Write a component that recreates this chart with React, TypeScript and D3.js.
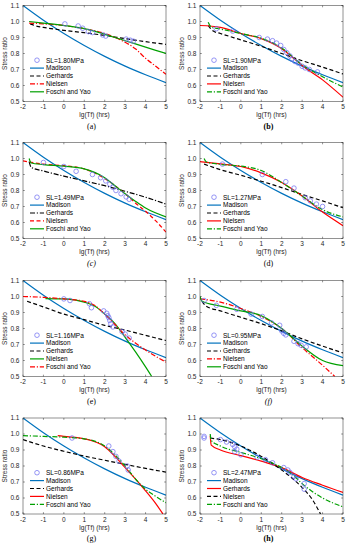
import React from 'react';
import * as d3 from 'd3';

const xTicks = [-2, -1, 0, 1, 2, 3, 4, 5];
const yTicks = [0.5, 0.6, 0.7, 0.8, 0.9, 1.0, 1.1];

// Madison curve (same in every panel)
const madison: [number, number][] = [[-2, 1.1], [-1, 1.008], [0, 0.925], [1, 0.85], [2, 0.782], [3, 0.721], [4, 0.667], [5, 0.618]];

// (a) SL=1.80MPa
const aPoints: [number, number][] = [[0.05, 0.985], [0.7, 0.972], [0.92, 0.958], [1.2, 0.937], [1.4, 0.931], [1.9, 0.916], [2.05, 0.909], [3.05, 0.89], [3.25, 0.883], [3.4, 0.877]];
const aGerhards: [number, number][] = [[-1.65, 0.985], [-1.3, 0.97], [-1, 0.963], [0, 0.945], [1, 0.93], [2, 0.913], [3, 0.893], [4, 0.874], [5, 0.857]];
const aNielsen: [number, number][] = [[-1.7, 0.99], [-1, 0.985], [0, 0.975], [1, 0.955], [2, 0.925], [2.5, 0.9], [3, 0.87], [3.5, 0.83], [4, 0.77], [4.5, 0.72], [5, 0.67]];
const aFoschi: [number, number][] = [[-1.7, 1.0], [-1, 0.99], [0, 0.975], [1, 0.955], [2, 0.92], [3, 0.88], [4, 0.84], [5, 0.8]];

// (b) SL=1.90MPa
const bPoints: [number, number][] = [[-1.2, 0.955], [-0.4, 0.94], [0.9, 0.9], [1.3, 0.89], [1.55, 0.88], [1.75, 0.865], [1.95, 0.85], [2.1, 0.825], [2.25, 0.805], [2.4, 0.785], [2.5, 0.765], [2.65, 0.75], [2.8, 0.74], [3.0, 0.72], [3.15, 0.71], [3.35, 0.7], [3.75, 0.685]];
const bGerhards: [number, number][] = [[-1.6, 0.975], [-1.35, 0.94], [-1, 0.925], [0, 0.885], [1, 0.845], [2, 0.8], [3, 0.755], [4, 0.715], [5, 0.672]];
const bNielsen: [number, number][] = [[-2, 0.975], [-1, 0.963], [0, 0.925], [1, 0.893], [2, 0.83], [2.5, 0.78], [3, 0.725], [4, 0.635], [5, 0.527]];
const bFoschi: [number, number][] = [[-1.6, 0.995], [-1.45, 0.965], [-1, 0.953], [0, 0.925], [1, 0.895], [2, 0.835], [3, 0.73], [4, 0.655], [5, 0.59]];

// (c) SL=1.49MPa
const cPoints: [number, number][] = [[-1.0, 0.975], [0.0, 0.95], [0.6, 0.92], [1.4, 0.9], [1.8, 0.88], [2.05, 0.86], [2.25, 0.84], [2.4, 0.82], [2.55, 0.8], [2.8, 0.78], [3.05, 0.76], [3.2, 0.745]];
const cGerhards: [number, number][] = [[-1.7, 0.98], [-1.6, 0.945], [-1, 0.922], [0, 0.89], [1, 0.86], [2, 0.83], [3, 0.795], [4, 0.758], [5, 0.715]];
const cNielsen: [number, number][] = [[-2, 0.985], [-1, 0.965], [0, 0.955], [1, 0.935], [2, 0.875], [2.5, 0.83], [3, 0.78], [3.5, 0.722], [4, 0.67], [4.5, 0.61], [5, 0.54]];
const cFoschi: [number, number][] = [[-1.7, 1.0], [-1.6, 0.972], [-1, 0.962], [0, 0.952], [1, 0.935], [2, 0.88], [2.5, 0.83], [3, 0.78], [3.5, 0.733], [4, 0.69], [5, 0.635]];

// (d) SL=1.27MPa
const dPoints: [number, number][] = [[-0.9, 0.965], [1.05, 0.9], [2.2, 0.855], [2.6, 0.815], [3.15, 0.755], [3.4, 0.735], [3.7, 0.715], [4.0, 0.7]];
const dGerhards: [number, number][] = [[-1.8, 0.965], [-1, 0.93], [0, 0.895], [1, 0.858], [2, 0.818], [3, 0.775], [4, 0.735], [5, 0.692]];
const dNielsen: [number, number][] = [[-2, 0.98], [-1, 0.966], [0, 0.95], [1, 0.91], [2, 0.85], [3, 0.765], [4, 0.665], [5, 0.58]];
const dFoschi: [number, number][] = [[-1.8, 1.0], [-1.7, 0.98], [-1, 0.963], [0, 0.953], [1, 0.925], [2, 0.85], [3, 0.765], [4, 0.68], [5, 0.635]];

// (e) SL=1.16MPa
const ePoints: [number, number][] = [[0.0, 0.985], [0.3, 0.975], [1.25, 0.955], [1.35, 0.93], [1.95, 0.91], [2.1, 0.895], [2.15, 0.88], [2.2, 0.868], [2.25, 0.85], [2.3, 0.83], [2.4, 0.81], [2.85, 0.78], [3.0, 0.765], [3.2, 0.74]];
const eGerhards: [number, number][] = [[-1.8, 0.97], [-1, 0.935], [0, 0.89], [1, 0.855], [2, 0.82], [3, 0.79], [4, 0.757], [5, 0.725]];
const eNielsen: [number, number][] = [[-0.9, 0.987], [0, 0.985], [1, 0.965], [1.5, 0.94], [2, 0.89], [2.5, 0.83], [3, 0.745], [3.5, 0.655], [4, 0.56], [4.3, 0.5]];
const eFoschi: [number, number][] = [[-2, 1.0], [-1, 0.995], [0, 0.985], [1, 0.97], [1.5, 0.945], [2, 0.89], [2.5, 0.825], [3, 0.76], [3.5, 0.71], [4, 0.665], [5, 0.59]];

// (f) SL=0.95MPa
const fPoints: [number, number][] = [[-1.8, 0.975], [-1.2, 0.945], [-0.2, 0.92], [0.5, 0.89], [1.05, 0.875], [1.5, 0.835], [1.9, 0.82], [2.0, 0.785], [2.1, 0.77], [2.2, 0.76], [2.6, 0.72], [2.8, 0.705], [2.95, 0.695], [3.2, 0.685]];
const fGerhards: [number, number][] = [[-1.9, 0.97], [-1.7, 0.94], [-1, 0.91], [0, 0.87], [1, 0.83], [2, 0.785], [3, 0.735], [4, 0.69], [5, 0.647]];
const fNielsen: [number, number][] = [[-2, 0.985], [-1, 0.965], [0, 0.925], [1, 0.875], [2, 0.8], [3, 0.68], [4, 0.57], [4.6, 0.5]];
const fFoschi: [number, number][] = [[-2, 1.0], [-1.9, 0.97], [-1, 0.94], [0, 0.91], [1, 0.88], [2, 0.8], [2.5, 0.745], [3, 0.69], [4, 0.6], [5, 0.568]];

// (g) SL=0.86MPa
const gPoints: [number, number][] = [[0.4, 0.975], [2.2, 0.925], [2.4, 0.89], [2.55, 0.86], [2.7, 0.83], [3.1, 0.8], [3.15, 0.775]];
const gGerhards: [number, number][] = [[-2, 0.965], [-1, 0.925], [0, 0.892], [1, 0.862], [2, 0.836], [3, 0.81], [4, 0.785], [5, 0.762]];
const gNielsen: [number, number][] = [[-0.3, 0.99], [0, 0.985], [1, 0.97], [2, 0.92], [2.5, 0.86], [3, 0.79], [3.5, 0.72], [4, 0.645], [4.5, 0.565], [4.85, 0.5]];
const gFoschi: [number, number][] = [[-2, 0.99], [-1, 0.985], [0, 0.98], [1, 0.97], [2, 0.925], [2.5, 0.87], [3, 0.8], [3.5, 0.72], [4, 0.655], [4.5, 0.61], [5, 0.57]];

// (h) SL=2.47MPa
const hPoints: [number, number][] = [[-1.8, 0.985], [-1.8, 0.975], [-1.0, 0.965], [-0.7, 0.95], [-0.4, 0.935], [-0.3, 0.92], [-0.2, 0.905], [-0.3, 0.89], [0.0, 0.87], [0.8, 0.855], [1.2, 0.84], [1.55, 0.82], [2.1, 0.79], [2.3, 0.775], [2.4, 0.76], [2.6, 0.735], [2.7, 0.72], [3.1, 0.69], [3.1, 0.655]];
const hGerhards: [number, number][] = [[-1.5, 0.99], [-1.45, 0.93], [-1, 0.9], [0, 0.865], [1, 0.83], [2, 0.79], [3, 0.728], [4, 0.68], [5, 0.635]];
const hNielsen: [number, number][] = [[-1.5, 0.975], [-1, 0.965], [0, 0.925], [1, 0.86], [2, 0.775], [3, 0.665], [3.5, 0.59], [3.9, 0.5]];
const hFoschi: [number, number][] = [[-1.5, 1.0], [-1.45, 0.96], [-1, 0.925], [0, 0.885], [1, 0.845], [2, 0.79], [2.5, 0.75], [3, 0.69], [4, 0.6], [5, 0.545]];

const slLabels = ['SL=1.80MPa', 'SL=1.90MPa', 'SL=1.49MPa', 'SL=1.27MPa', 'SL=1.16MPa', 'SL=0.95MPa', 'SL=0.86MPa', 'SL=2.47MPa'];
const panelLetters = ['(a)', '(b)', '(c)', '(d)', '(e)', '(f)', '(g)', '(h)'];
const seriesNames = ['Madison', 'Gerhards', 'Nielsen', 'Foschi and Yao'];

const BLUE = '#0072BD';
const RED = '#FF0000';
const GREEN = '#00A000';
const BLACK = '#000000';
const MARK = '#6a6af0';
const SOLID = 'none';
const DASH = '4,2.5';
const DASHDOT = '5,1.8,1.2,1.8';

type Style = { color: string; dash: string };
type Panel = {
  points: [number, number][];
  curves: [number, number][][];
  styles: Style[];
  letterStyle: { fontStyle?: string; fontWeight?: string };
};

const panels: Panel[] = [
  { points: aPoints, curves: [madison, aGerhards, aNielsen, aFoschi], styles: [{ color: BLUE, dash: SOLID }, { color: BLACK, dash: DASH }, { color: RED, dash: DASHDOT }, { color: GREEN, dash: SOLID }], letterStyle: {} },
  { points: bPoints, curves: [madison, bGerhards, bNielsen, bFoschi], styles: [{ color: BLUE, dash: SOLID }, { color: BLACK, dash: DASH }, { color: RED, dash: SOLID }, { color: GREEN, dash: DASHDOT }], letterStyle: { fontWeight: 'bold' } },
  { points: cPoints, curves: [madison, cGerhards, cNielsen, cFoschi], styles: [{ color: BLUE, dash: SOLID }, { color: BLACK, dash: DASHDOT }, { color: RED, dash: DASH }, { color: GREEN, dash: SOLID }], letterStyle: { fontStyle: 'italic' } },
  { points: dPoints, curves: [madison, dGerhards, dNielsen, dFoschi], styles: [{ color: BLUE, dash: SOLID }, { color: BLACK, dash: DASH }, { color: RED, dash: SOLID }, { color: GREEN, dash: DASHDOT }], letterStyle: {} },
  { points: ePoints, curves: [madison, eGerhards, eNielsen, eFoschi], styles: [{ color: BLUE, dash: SOLID }, { color: BLACK, dash: DASH }, { color: GREEN, dash: SOLID }, { color: RED, dash: DASHDOT }], letterStyle: {} },
  { points: fPoints, curves: [madison, fGerhards, fNielsen, fFoschi], styles: [{ color: BLUE, dash: SOLID }, { color: BLACK, dash: DASH }, { color: RED, dash: DASHDOT }, { color: GREEN, dash: SOLID }], letterStyle: { fontStyle: 'italic' } },
  { points: gPoints, curves: [madison, gGerhards, gNielsen, gFoschi], styles: [{ color: BLUE, dash: SOLID }, { color: BLACK, dash: DASH }, { color: RED, dash: SOLID }, { color: GREEN, dash: DASHDOT }], letterStyle: {} },
  { points: hPoints, curves: [madison, hGerhards, hNielsen, hFoschi], styles: [{ color: BLUE, dash: SOLID }, { color: RED, dash: SOLID }, { color: BLACK, dash: DASH }, { color: GREEN, dash: DASHDOT }], letterStyle: { fontWeight: 'bold' } },
];

const COL_X = [23, 200];
const ROW_Y = [5.5, 142.5, 280.5, 418];
const PW = 143;
const PH = 96;
const FONT = 'Liberation Sans, Arial, sans-serif';

function PanelView({ p, idx }: { p: Panel; idx: number }) {
  const left = COL_X[idx % 2];
  const top = ROW_Y[Math.floor(idx / 2)];
  const x = d3.scaleLinear().domain([-2, 5]).range([left, left + PW]);
  const y = d3.scaleLinear().domain([0.5, 1.1]).range([top + PH, top]);
  const line = d3.line<[number, number]>().x(d => x(d[0])).y(d => y(d[1])).curve(d3.curveMonotoneX);
  const clipId = `clip${idx}`;
  const legTop = top + 54.7;
  const legStep = 7.9;
  return (
    <g>
      <defs>
        <clipPath id={clipId}>
          <rect x={left} y={top} width={PW} height={PH} />
        </clipPath>
      </defs>
      <rect x={left} y={top} width={PW} height={PH} fill="#fff" />
      {/* ticks */}
      {xTicks.map(t => (
        <g key={'x' + t}>
          <line x1={x(t)} x2={x(t)} y1={top + PH} y2={top + PH - 1.8} stroke="#262626" strokeWidth={0.5} />
          <line x1={x(t)} x2={x(t)} y1={top} y2={top + 1.8} stroke="#262626" strokeWidth={0.5} />
          <text x={x(t)} y={top + PH + 7.5} fontSize={6.5} textAnchor="middle" fill="#262626" fontFamily={FONT}>{t}</text>
        </g>
      ))}
      {yTicks.map(t => (
        <g key={'y' + t}>
          <line x1={left} x2={left + 1.8} y1={y(t)} y2={y(t)} stroke="#262626" strokeWidth={0.5} />
          <line x1={left + PW} x2={left + PW - 1.8} y1={y(t)} y2={y(t)} stroke="#262626" strokeWidth={0.5} />
          <text x={left - 3.5} y={y(t) + 2.3} fontSize={6.5} textAnchor="end" fill="#262626" fontFamily={FONT}>{t.toFixed(1)}</text>
        </g>
      ))}
      <g clipPath={`url(#${clipId})`}>
        {p.curves.map((c, i) => (
          <path key={i} d={line(c) || ''} fill="none" stroke={p.styles[i].color} strokeWidth={1.2} strokeDasharray={p.styles[i].dash} />
        ))}
        {p.points.map((d, i) => (
          <circle key={i} cx={x(d[0])} cy={y(d[1])} r={2.3} fill="none" stroke={MARK} strokeWidth={0.7} />
        ))}
      </g>
      <rect x={left} y={top} width={PW} height={PH} fill="none" stroke="#262626" strokeWidth={0.5} />
      {/* legend */}
      <circle cx={left + 14} cy={legTop} r={2.3} fill="none" stroke={MARK} strokeWidth={0.7} />
      <text x={left + 23} y={legTop + 2.3} fontSize={6.5} fill="#000" fontFamily={FONT}>{slLabels[idx]}</text>
      {seriesNames.map((n, i) => (
        <g key={n}>
          <line x1={left + 7} x2={left + 21} y1={legTop + (i + 1) * legStep} y2={legTop + (i + 1) * legStep} stroke={p.styles[i].color} strokeWidth={1.2} strokeDasharray={p.styles[i].dash} />
          <text x={left + 23} y={legTop + (i + 1) * legStep + 2.3} fontSize={6.5} fill="#000" fontFamily={FONT}>{n}</text>
        </g>
      ))}
      <text x={left + PW / 2} y={top + PH + 15.5} fontSize={6.5} textAnchor="middle" fill="#262626" fontFamily={FONT}>lg(Tf) (hrs)</text>
      <text transform={`translate(${left - 16.5},${top + PH / 2}) rotate(-90)`} fontSize={6.5} textAnchor="middle" fill="#262626" fontFamily={FONT}>Stress ratio</text>
      <text x={left + PW / 2 - 3} y={top + PH + 27} fontSize={8} textAnchor="middle" fill="#000" fontFamily="Liberation Serif, Times New Roman, serif" fontStyle={p.letterStyle.fontStyle} fontWeight={p.letterStyle.fontWeight}>{panelLetters[idx]}</text>
    </g>
  );
}

export default function App() {
  return (
    <svg width={347} height={550} style={{ position: 'absolute', left: 0, top: 0, background: '#fff' }}>
      <rect width={347} height={550} fill="#fff" />
      {panels.map((p, i) => <PanelView key={i} p={p} idx={i} />)}
    </svg>
  );
}
